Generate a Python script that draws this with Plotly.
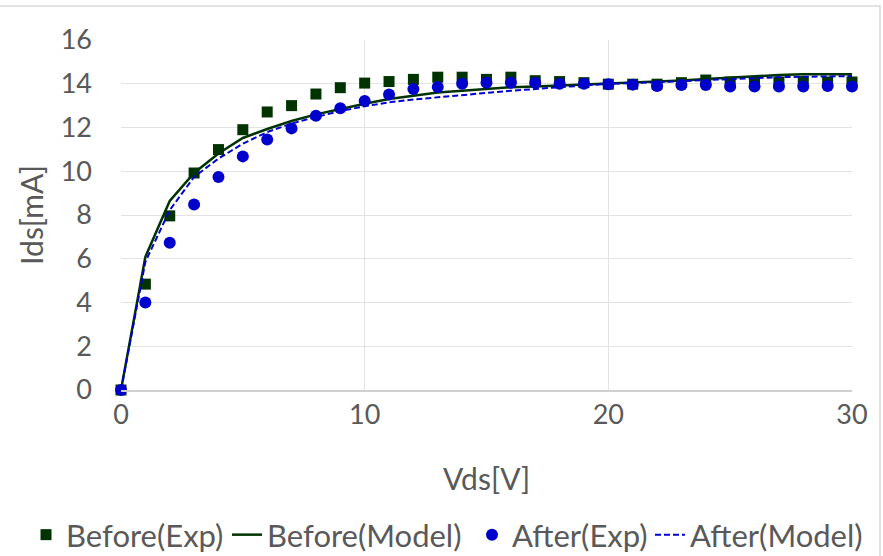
import plotly.graph_objects as go

vds = list(range(0, 31))
before_exp = [0, 4.84, 7.96, 9.92, 10.99, 11.9, 12.71, 13.0, 13.53, 13.82, 14.03,
              14.1, 14.2, 14.3, 14.3, 14.2, 14.3, 14.14, 14.1, 14.05, 13.98,
              13.98, 13.98, 14.05, 14.17, 14.08, 14.08, 14.08, 14.1, 14.08, 14.08]
after_exp = [0, 4.0, 6.73, 8.48, 9.74, 10.68, 11.45, 11.96, 12.54, 12.88, 13.21,
             13.51, 13.76, 13.85, 14.0, 14.05, 14.05, 14.05, 14.0, 14.0, 13.98,
             13.96, 13.9, 13.94, 13.94, 13.87, 13.87, 13.87, 13.87, 13.9, 13.87]
before_model = [0, 6.09, 8.64, 9.92, 10.81, 11.52, 11.93, 12.3, 12.6, 12.86, 13.09,
                13.3, 13.45, 13.6, 13.68, 13.76, 13.84, 13.88, 13.92, 13.96, 14.03,
                14.05, 14.1, 14.15, 14.22, 14.28, 14.35, 14.4, 14.43, 14.44, 14.44]
after_model = [0, 5.86, 8.22, 9.74, 10.58, 11.26, 11.79, 12.18, 12.48, 12.75, 12.97,
               13.15, 13.28, 13.38, 13.5, 13.6, 13.68, 13.76, 13.84, 13.92, 14.0,
               14.03, 14.08, 14.12, 14.17, 14.22, 14.26, 14.3, 14.32, 14.34, 14.35]

GREEN = "#003300"
BLUE = "#0000CC"
FONT = "Lato"
TXT = "#595959"

L, R, T, B = 121, 31, 40, 166
PW = 883 - L - R
PH = 556 - T - B

fig = go.Figure()
fig.add_trace(go.Scatter(x=vds, y=before_exp, mode="markers", name="Before(Exp)",
                         marker=dict(symbol="square", size=11, color=GREEN),
                         cliponaxis=False, legend="legend"))
fig.add_trace(go.Scatter(x=vds, y=before_model, mode="lines", name="Before(Model)",
                         line=dict(color=GREEN, width=2.5), legend="legend2"))
fig.add_trace(go.Scatter(x=vds, y=after_exp, mode="markers", name="After(Exp)",
                         marker=dict(symbol="circle", size=12, color=BLUE),
                         cliponaxis=False, legend="legend3"))
fig.add_trace(go.Scatter(x=vds, y=after_model, mode="lines", name="After(Model)",
                         line=dict(color=BLUE, width=2, dash="6px,3px"), legend="legend4"))


def leg(text_px):
    return dict(orientation="h", x=(text_px - 40 - L) / PW, xanchor="left",
                y=(390 - 535) / PH, yanchor="middle", bgcolor="rgba(0,0,0,0)",
                font=dict(family=FONT, size=31, color=TXT), itemwidth=30)


fig.update_layout(
    width=883, height=556,
    margin=dict(l=L, r=R, t=T, b=B, autoexpand=False),
    paper_bgcolor="white", plot_bgcolor="white",
    font=dict(family=FONT, color=TXT, size=26),
    showlegend=True,
    legend=leg(66), legend2=leg(267), legend3=leg(512), legend4=leg(690),
    xaxis=dict(range=[0, 30], tickvals=[0, 10, 20, 30], showgrid=True,
               gridcolor="#e3e3e3", gridwidth=1, zeroline=False,
               showline=True, linecolor="#d0d0d0", linewidth=1.5,
               ticks="", tickfont=dict(size=27, color=TXT),
               title=dict(text="Vds[V]", font=dict(size=30, color=TXT), standoff=40)),
    yaxis=dict(range=[0, 16], tickvals=list(range(0, 17, 2)), showgrid=True,
               gridcolor="#e3e3e3", gridwidth=1, zeroline=False,
               showline=False, ticks="", tickfont=dict(size=27, color=TXT),
               ticklabelstandoff=28,
               title=dict(text="Ids[mA]", font=dict(size=30, color=TXT), standoff=8)),
)

# chart outer border (as in the reference)
fig.add_shape(type="rect", xref="paper", yref="paper",
              x0=(-2 - L) / PW, x1=(880 - L) / PW,
              y0=(390 - 560) / PH, y1=(390 - 6) / PH,
              line=dict(color="#d9d9d9", width=1.5), layer="below")

fig.write_html("out.html")
